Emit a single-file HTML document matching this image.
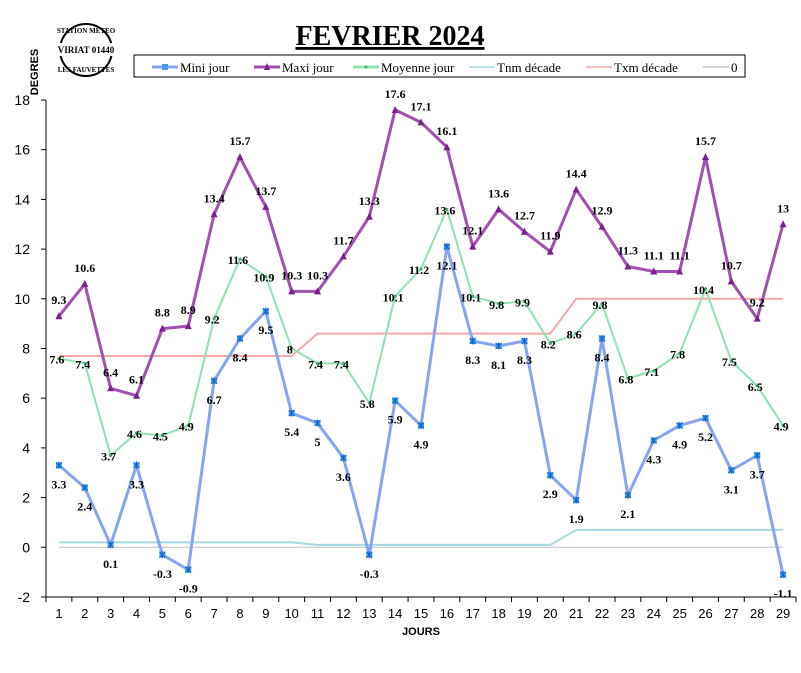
<!DOCTYPE html>
<html><head><meta charset="utf-8"><style>
body{margin:0;background:#fff;width:801px;height:668px;overflow:hidden;font-family:"Liberation Serif",serif}
svg text{font-family:"Liberation Serif",serif}
</style></head><body>
<svg id="chart" width="801" height="668" xmlns="http://www.w3.org/2000/svg">
<text x="390" y="45" text-anchor="middle" font-size="28" font-weight="bold" text-decoration="underline">FEVRIER 2024</text>
<text transform="translate(38,72) rotate(-90)" text-anchor="middle" font-size="11" font-weight="bold" style="font-family:'Liberation Sans',sans-serif">DEGRES</text>
<g>
<circle cx="86" cy="50" r="26" fill="none" stroke="#000" stroke-width="2"/>
<rect x="54" y="43" width="64" height="13" fill="#fff"/>
<text x="86" y="53" text-anchor="middle" font-size="9" font-weight="bold">VIRIAT 01440</text>
<text x="86" y="33" text-anchor="middle" font-size="7" font-weight="bold">STATION METEO</text>
<text x="86" y="72" text-anchor="middle" font-size="7" font-weight="bold">LES FAUVETTES</text>
</g>
<g id="legend">
<rect x="134" y="55" width="611" height="22" fill="#fff" stroke="#000"/>
</g>
<g id="axes"></g>
<g id="series"></g>
</svg>
<script>
const days=[1,2,3,4,5,6,7,8,9,10,11,12,13,14,15,16,17,18,19,20,21,22,23,24,25,26,27,28,29];
const mini=[3.3,2.4,0.1,3.3,-0.3,-0.9,6.7,8.4,9.5,5.4,5,3.6,-0.3,5.9,4.9,12.1,8.3,8.1,8.3,2.9,1.9,8.4,2.1,4.3,4.9,5.2,3.1,3.7,-1.1];
const maxi=[9.3,10.6,6.4,6.1,8.8,8.9,13.4,15.7,13.7,10.3,10.3,11.7,13.3,17.6,17.1,16.1,12.1,13.6,12.7,11.9,14.4,12.9,11.3,11.1,11.1,15.7,10.7,9.2,13];
const moy=[7.6,7.4,3.7,4.6,4.5,4.9,9.2,11.6,10.9,8,7.4,7.4,5.8,10.1,11.2,13.6,10.1,9.8,9.9,8.2,8.6,9.8,6.8,7.1,7.8,10.4,7.5,6.5,4.9];
const tnm=[0.2,0.2,0.2,0.2,0.2,0.2,0.2,0.2,0.2,0.2,0.1,0.1,0.1,0.1,0.1,0.1,0.1,0.1,0.1,0.1,0.7,0.7,0.7,0.7,0.7,0.7,0.7,0.7,0.7];
const txm=[7.7,7.7,7.7,7.7,7.7,7.7,7.7,7.7,7.7,7.7,8.6,8.6,8.6,8.6,8.6,8.6,8.6,8.6,8.6,8.6,10,10,10,10,10,10,10,10,10];
const yTicks=[-2,0,2,4,6,8,10,12,14,16,18];
const NS="http://www.w3.org/2000/svg";
const L=46,R=796,T=100,B=597,yMin=-2,yMax=18;
const bw=(R-L)/days.length;
function xs(i){return L+bw*(i+0.5);}
function ys(v){return B-(v-yMin)/(yMax-yMin)*(B-T);}
function mk(tag,attrs,parent,txt){const e=document.createElementNS(NS,tag);for(const k in attrs)e.setAttribute(k,attrs[k]);if(txt!==undefined)e.textContent=txt;parent.appendChild(e);return e;}
const ax=document.getElementById('axes'),sr=document.getElementById('series'),lg=document.getElementById('legend');
let a=mk('line',{x1:L,y1:T,x2:L,y2:B,stroke:'#000'},ax);


a=mk('line',{x1:L,y1:B,x2:R,y2:B,stroke:'#000'},ax);


yTicks.forEach(v=>{mk('line',{x1:L-5,y1:ys(v),x2:L,y2:ys(v),stroke:'#000'},ax);
const t=mk('text',{x:L-16,y:ys(v)+5,'text-anchor':'end','font-size':'14',style:"font-family:'Liberation Sans',sans-serif"},ax,String(v));

});
days.forEach((d,i)=>{mk('line',{x1:L+bw*i,y1:B,x2:L+bw*i,y2:B+5,stroke:'#000'},ax);
const t=mk('text',{x:xs(i),y:B+21,'text-anchor':'middle','font-size':'13',style:"font-family:'Liberation Sans',sans-serif"},ax,String(d));

});
mk('line',{x1:R,y1:B,x2:R,y2:B+5,stroke:'#000'},ax);
const xt=mk('text',{x:(L+R)/2,y:635,'text-anchor':'middle','font-size':'11','font-weight':'bold',style:"font-family:'Liberation Sans',sans-serif"},ax,'JOURS');


function line(arr,color,w,name){const p=mk('polyline',{points:arr.map((v,i)=>xs(i)+','+ys(v)).join(' '),fill:'none',stroke:color,'stroke-width':w},sr);

}
const zero=mk('line',{x1:xs(0),y1:ys(0),x2:xs(days.length-1),y2:ys(0),stroke:'#c0c0c0','stroke-width':1},sr);


line(tnm,'#a8d8e0',2,'tnm-decade-line');
line(txm,'#f4a8a8',2,'txm-decade-line');
line(moy,'#90e0b0',2,'moyenne-line');
line(mini,'#88a4f0',3,'mini-line');
line(maxi,'#a050b0',3,'maxi-line');
function lbl(arr,dx,dy,name){arr.forEach((v,i)=>{const t=mk('text',{x:xs(i)+dx,y:ys(v)+dy,'text-anchor':'middle','font-size':'12','font-weight':'bold'},sr,String(v));

});}
moy.forEach((v,i)=>{const c=mk('circle',{cx:xs(i),cy:ys(v),r:1.6,fill:'#40b070'},sr);

});
mini.forEach((v,i)=>{const x=xs(i),y=ys(v);const g=mk('g',{},sr);


mk('rect',{x:x-3,y:y-3,width:6,height:6,fill:'#40a0f0'},g);
mk('path',{d:`M${x-3},${y-3}L${x+3},${y+3}M${x+3},${y-3}L${x-3},${y+3}M${x},${y-3.5}V${y+3.5}`,stroke:'#1060d0','stroke-width':1},g);});
maxi.forEach((v,i)=>{const x=xs(i),y=ys(v);const p=mk('path',{d:`M${x},${y-4}L${x+3.5},${y+3}L${x-3.5},${y+3}Z`,fill:'#7a2090'},sr);

});
lbl(moy,-2,5,'moyenne-value-label');
lbl(mini,0,23,'mini-value-label');
lbl(maxi,0,-12,'maxi-value-label');
const items=[['Mini jour','#88a4f0',148,'mini'],['Maxi jour','#a050b0',250,'maxi'],['Moyenne jour','#90e0b0',349,'moy'],['Tnm décade','#a8d8e0',465,'plain'],['Txm décade','#f4a8a8',582,'plain'],['0','#c0c0c0',699,'plain']];
items.forEach(([n,c,x,k])=>{const g=mk('g',{},lg);


mk('line',{x1:x+4,y1:67,x2:x+30,y2:67,stroke:c,'stroke-width':k==='plain'?1.5:3},g);
if(k==='mini')mk('rect',{x:x+14,y:64,width:6,height:6,fill:'#40a0f0'},g);
if(k==='maxi')mk('path',{d:`M${x+17},63L${x+20},70L${x+14},70Z`,fill:'#7a2090'},g);
if(k==='moy')mk('circle',{cx:x+17,cy:67,r:1.5,fill:'#40b070'},g);
mk('text',{x:x+32,y:72,'font-size':'13'},g,n);});
</script>
</body></html>
